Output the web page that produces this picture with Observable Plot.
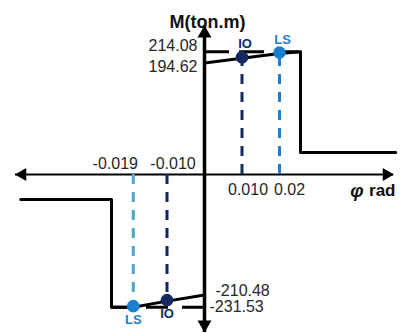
<!DOCTYPE html>
<html>
<head>
<meta charset="utf-8">
<script src="https://cdn.jsdelivr.net/npm/d3@7"></script>
<script src="https://cdn.jsdelivr.net/npm/@observablehq/plot@0.6"></script>
<style>
  body { margin: 0; background: white; }
  svg text { font-family: "Liberation Sans", "DejaVu Sans", sans-serif; }
</style>
</head>
<body>
<div id="chart"></div>
<script>
// ---- data ----
const posPhi = [0, 0.010, 0.020, 0.0256, 0.0256, 0.051];
const posM   = [194.62, 203.0, 211.0, 214.08, 38.4, 38.4];
const negPhi = [0, -0.010, -0.019, -0.0248, -0.0248, -0.049];
const negM   = [-210.48, -221.0, -231.53, -231.53, -43.6, -43.6];

const perfLevel = ["IO", "LS", "IO", "LS"];
const perfPhi   = [0.010, 0.020, -0.010, -0.019];
const perfM     = [203.0, 211.0, -221.0, -231.53];

const phiTickLabels = ["0.010", "0.02", "-0.010", "-0.019"];
const momentLabels  = ["214.08", "194.62", "-210.48", "-231.53"];
const momentValues  = [214.08, 194.62, -210.48, -231.53];

const xAxisExtent = [-0.0504, 0.0504];
const yAxisExtent = [-275.7, 260];
const capPhi = [0.0256, -0.0248]; // end of yield plateau (positive, negative)

const yAxisTitle = "M(ton.m)";
const xAxisSymbol = "φ";
const xAxisUnit = "rad";

// ---- styles ----
const navy = "#14295f";
const blue = "#1b7fd0";
const teal = "#4aa8c6";
const font = "Liberation Sans";

const pos = posPhi.map((p, i) => ({phi: p, M: posM[i]}));
const neg = negPhi.map((p, i) => ({phi: p, M: negM[i]}));
const perf = perfLevel.map((l, i) => ({level: l, phi: perfPhi[i], M: perfM[i], label: phiTickLabels[i]}));
const moments = momentLabels.map((t, i) => ({text: t, M: momentValues[i]}));

const plot = Plot.plot({
  width: 401,
  height: 333,
  margin: 0,
  x: {domain: [-204 / 3750, 197 / 3750], axis: null},
  y: {domain: [-(333 - 174) / 0.573, 174 / 0.573], axis: null},
  style: {background: "white", fontFamily: font},
  marks: [
    // axes
    Plot.ruleY([0], {x1: xAxisExtent[0], x2: xAxisExtent[1], stroke: "black", strokeWidth: 2}),
    Plot.ruleX([0], {y1: yAxisExtent[0], y2: yAxisExtent[1], stroke: "black", strokeWidth: 3.5}),
    // arrowheads
    Plot.dot([yAxisExtent[1]], {x: 0, y: d => d, symbol: "triangle", r: 5.2, fill: "black", dy: 8}),
    Plot.dot([yAxisExtent[0]], {x: 0, y: d => d, symbol: "triangle", r: 5.2, fill: "black", rotate: 180, dy: -8}),
    Plot.dot([xAxisExtent[1]], {x: d => d, y: 0, symbol: "triangle", r: 4.8, fill: "black", rotate: 90, dx: -7}),
    Plot.dot([xAxisExtent[0]], {x: d => d, y: 0, symbol: "triangle", r: 4.8, fill: "black", rotate: -90, dx: 7}),

    // dashed horizontal reference lines
    Plot.ruleY([momentValues[0]], {x1: 0, x2: capPhi[0], stroke: "black", strokeWidth: 3, strokeDasharray: "25,10"}),
    Plot.ruleY([momentValues[3]], {x1: 0, x2: capPhi[1], stroke: "black", strokeWidth: 3, strokeDasharray: "22,14"}),

    // dashed vertical performance lines
    Plot.ruleX(perf.filter(d => d.level === "IO"), {x: "phi", y1: 0, y2: "M", stroke: navy, strokeWidth: 3, strokeDasharray: "10,8"}),
    Plot.ruleX(perf.filter(d => d.level === "LS" && d.phi > 0), {x: "phi", y1: 0, y2: "M", stroke: blue, strokeWidth: 3, strokeDasharray: "10,8"}),
    Plot.ruleX(perf.filter(d => d.level === "LS" && d.phi < 0), {x: "phi", y1: 0, y2: "M", stroke: teal, strokeWidth: 3, strokeDasharray: "10,8"}),

    // backbone curve
    Plot.line(pos, {x: "phi", y: "M", stroke: "black", strokeWidth: 3, curve: "linear"}),
    Plot.line(neg, {x: "phi", y: "M", stroke: "black", strokeWidth: 3, curve: "linear"}),

    // performance points
    Plot.dot(perf, {x: "phi", y: "M", r: 6.3, fill: d => d.level === "IO" ? navy : blue, stroke: "none", dy: -1}),

    // performance labels
    Plot.text(perf.filter(d => d.M > 0), {x: "phi", y: "M", text: "level", dy: -14, dx: 3, fontSize: 13, fontWeight: "bold",
      fill: d => d.level === "IO" ? navy : blue}),
    Plot.text(perf.filter(d => d.M < 0), {x: "phi", y: "M", text: "level", dy: 13, dx: 0, fontSize: 13, fontWeight: "bold",
      fill: d => d.level === "IO" ? navy : blue}),

    // phi tick labels
    Plot.text(perf.slice(0, 1), {x: "phi", y: 0, text: "label", dy: 15, dx: 6, fontSize: 16, fill: "#262626"}),
    Plot.text(perf.slice(1, 2), {x: "phi", y: 0, text: "label", dy: 15, dx: 10, fontSize: 16, fill: "#262626"}),
    Plot.text(perf.slice(2, 3), {x: "phi", y: 0, text: "label", dy: -11, dx: 6, fontSize: 16, fill: "#262626"}),
    Plot.text(perf.slice(3, 4), {x: "phi", y: 0, text: "label", dy: -11, dx: -18, fontSize: 16, fill: "#262626"}),

    // moment labels
    Plot.text(moments.slice(0, 1), {x: 0, y: "M", text: "text", textAnchor: "end", dx: -7, dy: -6, fontSize: 16, fill: "#262626"}),
    Plot.text(moments.slice(1, 2), {x: 0, y: "M", text: "text", textAnchor: "end", dx: -7, dy: 4, fontSize: 16, fill: "#262626"}),
    Plot.text(moments.slice(2, 3), {x: 0, y: "M", text: "text", textAnchor: "start", dx: 11, dy: -4, fontSize: 16, fill: "#262626"}),
    Plot.text(moments.slice(3, 4), {x: 0, y: "M", text: "text", textAnchor: "start", dx: 5, dy: 0, fontSize: 16, fill: "#262626"}),

    // axis titles
    Plot.text([yAxisTitle], {x: 0, frameAnchor: "top", dy: 15, dx: 3, fontSize: 18, fontWeight: "bold", fill: "#111"}),
    Plot.text([xAxisUnit], {frameAnchor: "right", y: 0, dx: -6, dy: 16, textAnchor: "end", fontSize: 17, fontWeight: "bold", fill: "#111"}),
    Plot.text([xAxisSymbol], {frameAnchor: "right", y: 0, dx: -38, dy: 16, textAnchor: "end", fontSize: 19, fontWeight: "bold", fontStyle: "italic", fill: "#111"})
  ]
});
document.getElementById("chart").appendChild(plot);
</script>
</body>
</html>
